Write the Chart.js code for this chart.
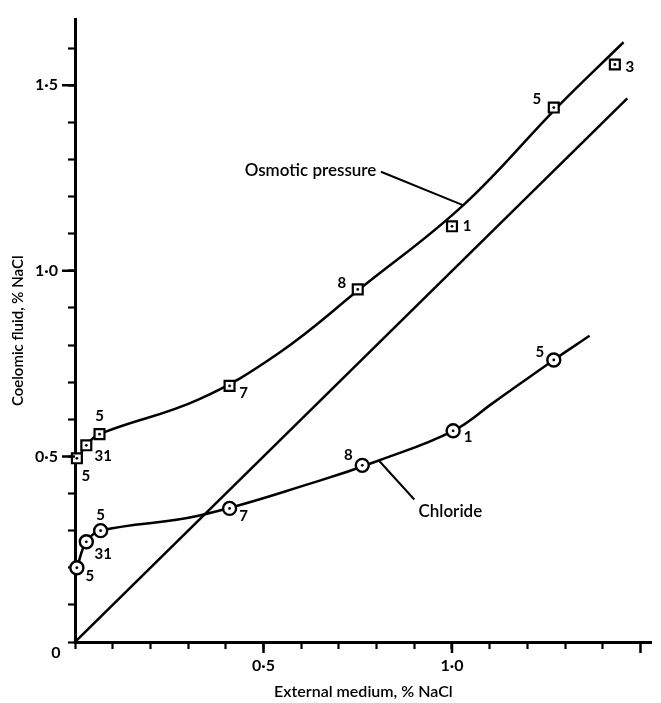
<!DOCTYPE html>
<html>
<head>
<meta charset="utf-8">
<script src="https://cdn.jsdelivr.net/npm/chart.js@4.4.1/dist/chart.umd.min.js"></script>
<style>
  html, body { margin: 0; padding: 0; background: #fff; }
  canvas { display: block; }
</style>
</head>
<body>
<canvas id="chart" width="661" height="703"></canvas>
<script>
// osmotic pressure of coelomic fluid (squares), % NaCl
const osmoticX = [0.005, 0.03, 0.065, 0.41, 0.75, 1.0, 1.27, 1.432];
const osmoticY = [0.495, 0.53, 0.56, 0.69, 0.95, 1.12, 1.44, 1.556];
const osmoticCounts = ['5', '31', '5', '7', '8', '1', '5', '3'];

// chloride of coelomic fluid (circles), % NaCl
const chlorideX = [0.005, 0.03, 0.068, 0.41, 0.762, 1.003, 1.27];
const chlorideY = [0.20, 0.27, 0.30, 0.36, 0.476, 0.569, 0.76];
const chlorideCounts = ['5', '31', '5', '7', '8', '1', '5'];

// hand-drawn curves
const osmoticCurveX = [0.005, 0.03, 0.065, 0.327, 0.54, 0.76, 1.03, 1.28, 1.455];
const osmoticCurveY = [0.49, 0.53, 0.56, 0.653, 0.778, 0.955, 1.177, 1.442, 1.616];
const chlorideCurveX = [0.005, 0.03, 0.068, 0.327, 0.647, 0.806, 1.003, 1.11, 1.27, 1.365];
const chlorideCurveY = [0.20, 0.27, 0.30, 0.34, 0.434, 0.489, 0.569, 0.645, 0.76, 0.825];

// isosmotic line (internal = external)
const equalX = [0, 1.465];
const equalY = [0, 1.465];

const xTicks = [0, 0.5, 1.0, 1.5];
const yTicks = [0, 0.5, 1.0, 1.5];

const FONT = 'Lato, "Open Sans", sans-serif';

// label offsets in pixels from each marker
const squareOffsets = [[9, 18], [17, 11], [0, -18], [14, 7], [-16, -6], [15, 0], [-17, -8], [15, 3]];
const circleOffsets = [[13, 8], [17, 12], [0, -16], [14, 8], [-14, -10], [15, 6], [-14, -8]];

const pts = (xs, ys) => xs.map((v, i) => ({ x: v, y: ys[i] }));
const fmt = v => v.toFixed(1).replace('.', '\u00b7');

const keepSteps = scale => {
  scale.ticks = scale.ticks.filter(t => Math.abs(t.value * 10 - Math.round(t.value * 10)) < 1e-6);
};
const majorLabel = v => {
  const r = Math.round(v * 10);
  return (r % 5 === 0 && r !== 0) ? fmt(r / 10) : '';
};

const annotate = {
  id: 'annotate',
  afterDraw(chart) {
    const { ctx } = chart;
    const x = chart.scales.x, y = chart.scales.y;
    ctx.save();
    ctx.fillStyle = '#000';
    ctx.strokeStyle = '#000';

    // longer ticks at the labelled values
    ctx.lineWidth = 2.5;
    ctx.beginPath();
    yTicks.filter(v => v > 0).forEach(v => {
      const py = y.getPixelForValue(v);
      ctx.moveTo(x.left - 13, py);
      ctx.lineTo(x.left, py);
    });
    xTicks.filter(v => v > 0).forEach(v => {
      const px = x.getPixelForValue(v);
      ctx.moveTo(px, y.bottom);
      ctx.lineTo(px, y.bottom + 11);
    });
    ctx.stroke();

    ctx.font = 'bold 16px ' + FONT;
    ctx.textAlign = 'center';
    ctx.textBaseline = 'middle';
    ctx.fillText('0', x.left - 19, y.bottom + 11);

    // sample counts
    ctx.font = 'bold 15px ' + FONT;
    [[1, osmoticCounts, squareOffsets], [3, chlorideCounts, circleOffsets]].forEach(([idx, labels, offs]) => {
      chart.getDatasetMeta(idx).data.forEach((p, i) => {
        ctx.fillText(labels[i], p.x + offs[i][0], p.y + offs[i][1]);
      });
    });

    // curve names with leader lines
    ctx.lineWidth = 2;
    ctx.beginPath();
    ctx.moveTo(x.getPixelForValue(0.8115), y.getPixelForValue(1.267));
    ctx.lineTo(x.getPixelForValue(1.029), y.getPixelForValue(1.177));
    ctx.moveTo(x.getPixelForValue(0.90), y.getPixelForValue(0.384));
    ctx.lineTo(x.getPixelForValue(0.806), y.getPixelForValue(0.489));
    ctx.stroke();

    ctx.font = '600 17px ' + FONT;
    ctx.textAlign = 'left';
    ctx.fillText('Osmotic pressure', x.getPixelForValue(0.45), y.getPixelForValue(1.27));
    ctx.fillText('Chloride', x.getPixelForValue(0.911), y.getPixelForValue(0.352));
    ctx.restore();
  }
};

const lineSet = (data) => ({
  data,
  showLine: true,
  borderColor: '#000',
  borderWidth: 2.5,
  pointRadius: 0,
  tension: 0.4,
  fill: false
});

const markerSet = (data, style, r, bw) => ({
  data,
  clip: false,
  pointStyle: style,
  pointRadius: r,
  backgroundColor: r < 2 ? '#000' : '#fff',
  borderColor: '#000',
  borderWidth: bw
});

new Chart(document.getElementById('chart'), {
  type: 'scatter',
  data: {
    datasets: [
      markerSet(pts(osmoticX, osmoticY), 'circle', 1.4, 0),
      markerSet(pts(osmoticX, osmoticY), 'rect', 7, 2.2),
      markerSet(pts(chlorideX, chlorideY), 'circle', 1.4, 0),
      markerSet(pts(chlorideX, chlorideY), 'circle', 6.5, 2.4),
      lineSet(pts(osmoticCurveX, osmoticCurveY)),
      lineSet(pts(chlorideCurveX, chlorideCurveY)),
      { ...lineSet(pts(equalX, equalY)), tension: 0 }
    ]
  },
  options: {
    responsive: false,
    animation: false,
    events: [],
    layout: { padding: { top: 8, right: 1, left: 0, bottom: 0 } },
    plugins: {
      legend: { display: false },
      tooltip: { enabled: false }
    },
    scales: {
      x: {
        type: 'linear',
        min: 0,
        max: 1.53,
        afterFit: s => { s.height = 61; },
        afterBuildTicks: keepSteps,
        ticks: {
          stepSize: 0.1,
          autoSkip: false,
          maxRotation: 0,
          padding: 7,
          color: '#000',
          font: { family: FONT, size: 16, weight: 'bold' },
          callback: majorLabel
        },
        grid: { drawOnChartArea: false, drawTicks: true, tickLength: 7, tickWidth: 2.2, tickColor: '#000' },
        border: { display: true, color: '#000', width: 3 },
        title: {
          display: true,
          text: 'External medium, % NaCl',
          color: '#000',
          padding: { top: 0, bottom: 2 },
          font: { family: FONT, size: 16, weight: '600' }
        }
      },
      y: {
        type: 'linear',
        min: 0,
        max: 1.677,
        afterFit: s => { s.width = 75; },
        afterBuildTicks: keepSteps,
        ticks: {
          stepSize: 0.1,
          autoSkip: false,
          padding: 10,
          color: '#000',
          font: { family: FONT, size: 16, weight: 'bold' },
          callback: majorLabel
        },
        grid: { drawOnChartArea: false, drawTicks: true, tickLength: 7, tickWidth: 2.2, tickColor: '#000' },
        border: { display: true, color: '#000', width: 3 },
        title: {
          display: true,
          text: 'Coelomic fluid, % NaCl',
          color: '#000',
          padding: { top: 9, bottom: 0 },
          font: { family: FONT, size: 15, weight: '600' }
        }
      }
    }
  },
  plugins: [annotate]
});
</script>
</body>
</html>
